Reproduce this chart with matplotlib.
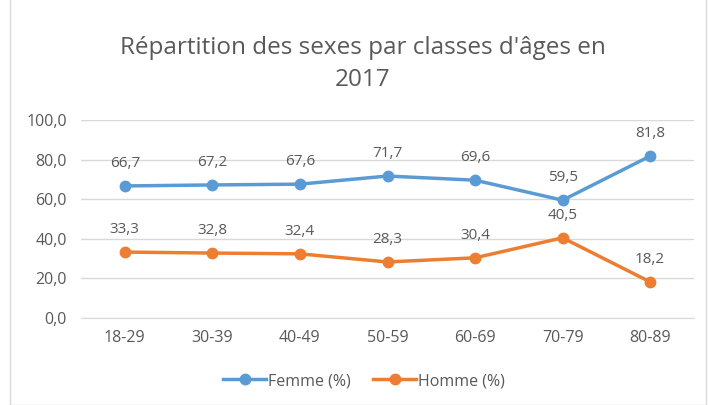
import matplotlib
matplotlib.use("Agg")
import matplotlib.pyplot as plt
from matplotlib.lines import Line2D
from matplotlib.patches import Rectangle

categories = ["18-29", "30-39", "40-49", "50-59", "60-69", "70-79", "80-89"]
femme = [66.7, 67.2, 67.6, 71.7, 69.6, 59.5, 81.8]
homme = [33.3, 32.8, 32.4, 28.3, 30.4, 40.5, 18.2]
title = "Répartition des sexes par classes d'âges en\n2017"

FONT = ["Open Sans", "DejaVu Sans"]
TXT = "#595959"
BLUE = "#5b9bd5"
ORANGE = "#ed7d31"

plt.rcParams["font.family"] = FONT
fig = plt.figure(figsize=(7.08, 4.05), dpi=100)
ax = fig.add_axes([81/708, 1-318/405, 613/708, 198/405])

x = list(range(len(categories)))
ax.plot(x, femme, color=BLUE, lw=2.5, marker="o", ms=7.5, solid_capstyle="round", zorder=3, label="Femme (%)")
ax.plot(x, homme, color=ORANGE, lw=2.5, marker="o", ms=7.5, solid_capstyle="round", zorder=3, label="Homme (%)")

for xi, v in zip(x, femme):
    ax.annotate(f"{v:.1f}".replace(".", ","), (xi, v), xytext=(0, 11), textcoords="offset points",
                ha="center", va="bottom", fontsize=11, color=TXT)
for xi, v in zip(x, homme):
    ax.annotate(f"{v:.1f}".replace(".", ","), (xi, v), xytext=(0, 11), textcoords="offset points",
                ha="center", va="bottom", fontsize=11, color=TXT)

ax.set_xlim(-0.5, len(categories) - 0.5)
ax.set_ylim(0, 100)
ax.set_yticks([0, 20, 40, 60, 80, 100])
ax.set_yticklabels([f"{t:.1f}".replace(".", ",") for t in [0, 20, 40, 60, 80, 100]])
ax.set_xticks(x)
ax.set_xticklabels(categories)
ax.tick_params(length=0, labelsize=11.5, labelcolor=TXT)
ax.tick_params(axis="y", pad=10)
ax.tick_params(axis="x", pad=9)
ax.grid(axis="y", color="#d9d9d9", lw=1)
ax.set_axisbelow(True)
for s in ["top", "right", "left"]:
    ax.spines[s].set_visible(False)
ax.spines["bottom"].set_color("#d9d9d9")

fig.text(363/708, 1-64/405, title, ha="center", va="center", fontsize=17.5, color=TXT, linespacing=1.4)

handles = [Line2D([], [], color=BLUE, lw=2.5, marker="o", ms=7.5),
           Line2D([], [], color=ORANGE, lw=2.5, marker="o", ms=7.5)]
fig.legend(handles, ["Femme (%)", "Homme (%)"], loc="center", bbox_to_anchor=(364/708, 1-381/405),
           ncol=2, frameon=False, fontsize=11.5, labelcolor=TXT, handlelength=2.7,
           handletextpad=0.1, columnspacing=1.4)

fig.patches.append(Rectangle((10/708, 0), 696/708, 1.2, transform=fig.transFigure,
                             fill=False, edgecolor="#d9d9d9", lw=1))

fig.savefig("out.png", dpi=100, facecolor="white")
